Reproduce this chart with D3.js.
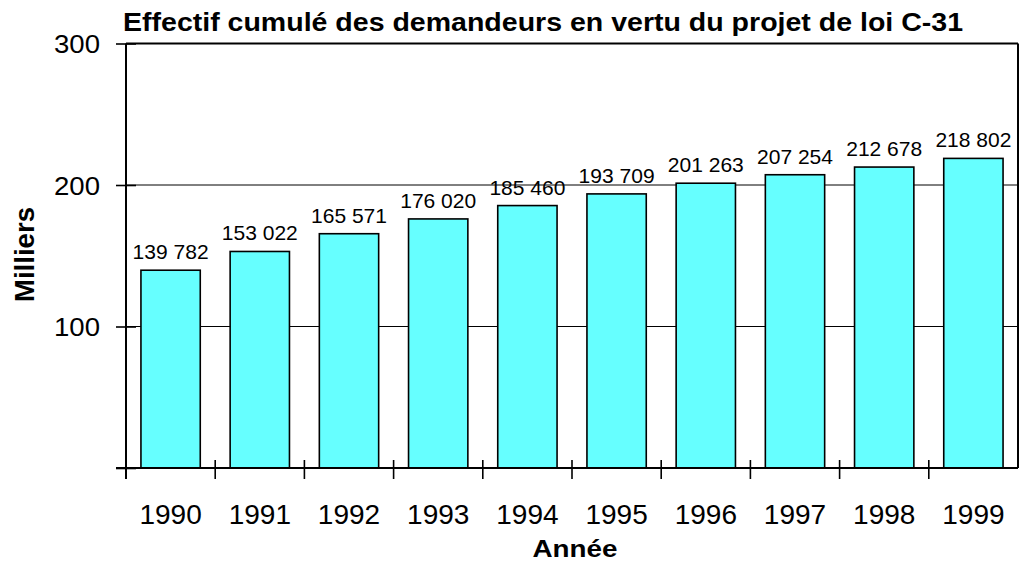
<!DOCTYPE html>
<html>
<head>
<meta charset="utf-8">
<script src="https://cdn.jsdelivr.net/npm/d3@7"></script>
<style>
  body { margin: 0; background: #fff; }
  svg { display: block; }
  svg text { font-family: "Liberation Sans", Arial, sans-serif; fill: #000; }
</style>
</head>
<body>
<svg class="chart"></svg>
<script>
const WIDTH = 1019;
const HEIGHT = 562;

const years = ['1990', '1991', '1992', '1993', '1994', '1995', '1996', '1997', '1998', '1999'];
const applicants = [139782, 153022, 165571, 176020, 185460, 193709, 201263, 207254, 212678, 218802];
const yTicks = [100, 200, 300];

const TITLE = 'Effectif cumulé des demandeurs en vertu du projet de loi C-31';
const BAR_COLOR = '#66ffff';

const margin = { top: 43.5, right: 1, left: 126, bottom: 94 };
const plotW = WIDTH - margin.left - margin.right;
const plotH = HEIGHT - margin.top - margin.bottom;

const svg = d3.select('.chart')
  .attr('width', WIDTH)
  .attr('height', HEIGHT);

const x = d3.scaleBand().domain(years).range([0, plotW]);
const y = d3.scaleLinear().domain([0, 300]).range([plotH, 0]);
const barW = x.bandwidth() * 0.665;

const g = svg.append('g').attr('transform', `translate(${margin.left},${margin.top})`);

// gridlines
g.selectAll('.grid')
  .data(yTicks.slice(0, -1))
  .enter()
  .append('line')
  .attr('x1', 0)
  .attr('x2', plotW)
  .attr('y1', (d) => y(d))
  .attr('y2', (d) => y(d))
  .attr('stroke', '#000')
  .attr('stroke-width', 1);

// bars
g.selectAll('.bar')
  .data(applicants)
  .enter()
  .append('rect')
  .attr('x', (d, i) => x(years[i]) + (x.bandwidth() - barW) / 2)
  .attr('y', (d) => y(d / 1000))
  .attr('width', barW)
  .attr('height', (d) => plotH - y(d / 1000))
  .attr('fill', BAR_COLOR)
  .attr('stroke', '#000')
  .attr('stroke-width', 1.6);

const fmt = (v) => d3.format(',')(v).replace(',', ' ');

g.selectAll('.val')
  .data(applicants)
  .enter()
  .append('text')
  .attr('x', (d, i) => x(years[i]) + x.bandwidth() / 2 - 38)
  .attr('y', (d) => y(d / 1000) - 11)
  .attr('textLength', 76)
  .attr('lengthAdjust', 'spacingAndGlyphs')
  .style('font-size', '21px')
  .text(fmt);

// plot border (top and right)
g.append('line').attr('x1', 0).attr('x2', plotW).attr('y1', 0).attr('y2', 0)
  .attr('stroke', '#000').attr('stroke-width', 2);
g.append('line').attr('x1', plotW).attr('x2', plotW).attr('y1', 0).attr('y2', plotH)
  .attr('stroke', '#000').attr('stroke-width', 2);

// y axis
const yAxis = g.append('g')
  .call(d3.axisLeft(y).tickValues([0, ...yTicks]).tickSize(10).tickFormat((d) => (d ? d : '')));
yAxis.select('.domain').remove();
yAxis.append('line').attr('x1', 0).attr('x2', 0).attr('y1', 0).attr('y2', plotH + 11)
  .attr('stroke', '#000').attr('stroke-width', 2);
yAxis.selectAll('.tick line').attr('x1', 10).attr('stroke-width', 1.6);
yAxis.selectAll('.tick text')
  .attr('x', -26 - 46)
  .attr('dy', '0.36em')
  .attr('text-anchor', 'start')
  .attr('textLength', (d) => (d ? 46 : null))
  .attr('lengthAdjust', 'spacingAndGlyphs')
  .style('font-size', '26px');

// x axis
const xAxis = g.append('g')
  .attr('transform', `translate(0,${plotH})`)
  .call(d3.axisBottom(x).tickSize(0));
xAxis.select('.domain').remove();
xAxis.append('line').attr('x1', -10).attr('x2', plotW).attr('y1', 0).attr('y2', 0)
  .attr('stroke', '#000').attr('stroke-width', 2);
xAxis.selectAll('.sep')
  .data(years.slice(1))
  .enter()
  .append('line')
  .attr('x1', (d) => x(d))
  .attr('x2', (d) => x(d))
  .attr('y1', -8)
  .attr('y2', 11)
  .attr('stroke', '#000')
  .attr('stroke-width', 1.6);
xAxis.selectAll('.tick text')
  .attr('y', 56)
  .attr('dy', 0)
  .style('font-size', '28px');

// titles
svg.append('text')
  .attr('x', 123)
  .attr('y', 31)
  .style('font-size', '25.5px')
  .style('font-weight', 'bold')
  .attr('textLength', 840)
  .attr('lengthAdjust', 'spacingAndGlyphs')
  .text(TITLE);

svg.append('text')
  .attr('x', 532.5)
  .attr('y', 557)
  .style('font-size', '24px')
  .style('font-weight', 'bold')
  .attr('textLength', 85)
  .attr('lengthAdjust', 'spacingAndGlyphs')
  .text('Année');

svg.append('text')
  .attr('transform', `translate(34,302) rotate(-90)`)
  .style('font-size', '27px')
  .style('font-weight', 'bold')
  .attr('textLength', 95)
  .attr('lengthAdjust', 'spacingAndGlyphs')
  .text('Milliers');
</script>
</body>
</html>
